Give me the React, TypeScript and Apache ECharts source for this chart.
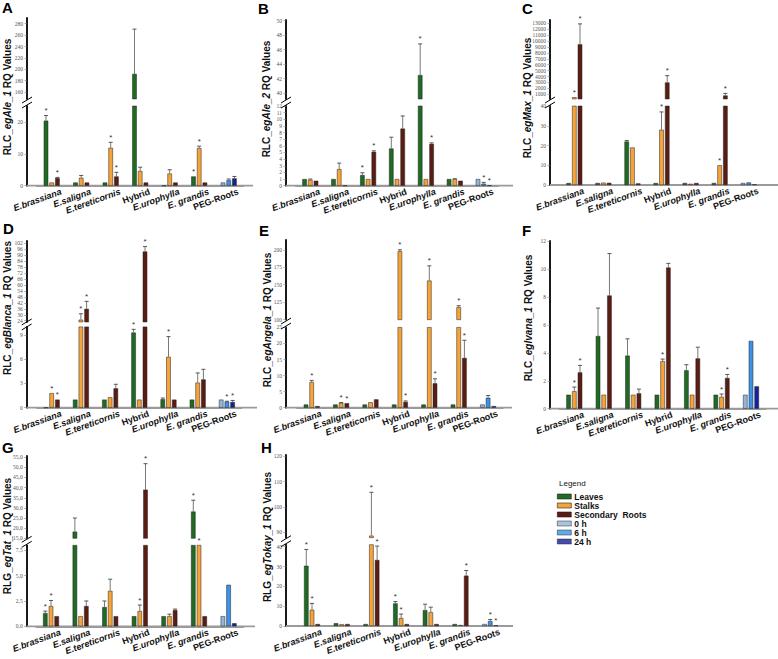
import React, { useEffect, useRef } from 'react';
import * as echarts from 'echarts';

type N = number | null;

const categories = ['E.brassiana', 'E.saligna', 'E.tereticornis', 'Hybrid', 'E.urophylla', 'E. grandis', 'PEG-Roots'];
const seriesNames = ['Leaves', 'Stalks', 'Secondary  Roots'];
const pegNames = ['0 h', '6 h', '24 h'];

// ---- Panel A (egAle_1)
const aLeaves: N[] = [20.4, 1.0, 1.0, 192, 0, 2.9, 1.0];
const aLeavesErr: N[] = [22.0, null, null, 270.5, null, null, null];
const aLeavesStar = [1, 0, 0, 0, 0, 1, 0];
const aStalks: N[] = [1.0, 2.5, 11.9, 4.6, 3.8, 11.8, 1.7];
const aStalksErr: N[] = [null, 3.2, 13.6, 5.8, 5.0, 12.4, 2.1];
const aStalksStar = [0, 0, 1, 0, 0, 1, 0];
const aRoots: N[] = [2.4, 1.0, 2.9, 1.0, 1.0, 1.0, 2.3];
const aRootsErr: N[] = [2.6, null, 4.2, null, null, null, 2.9];
const aRootsStar = [1, 0, 1, 0, 0, 0, 0];
const aLowerTicks = [0, 10, 20];
const aUpperTicks = [160, 180, 200, 220, 240, 260, 280];

// ---- Panel B (egAle_2)
const bLeaves: N[] = [1.0, 1.0, 1.6, 5.6, 42.5, 1.0, 1.0];
const bLeavesErr: N[] = [null, null, 1.95, 7.3, 46.8, null, null];
const bLeavesStar = [0, 0, 1, 0, 1, 0, 0];
const bStalks: N[] = [0.9, 2.5, 1.0, 1.0, 1.0, 1.0, 0.3];
const bStalksErr: N[] = [1.0, 3.4, null, null, null, 1.05, 0.5];
const bStalksStar = [0, 0, 0, 0, 0, 0, 1];
const bRoots: N[] = [0.75, 0, 5.1, 8.6, 6.3, 0.75, 0.05];
const bRootsErr: N[] = [null, null, 5.25, 10.5, 6.45, null, null];
const bRootsStar = [0, 0, 1, 0, 1, 0, 1];
const bLowerTicks = [0, 1, 2, 3, 4, 5, 6, 7, 8, 9, 10, 11, 12];
const bUpperTicks = [40, 42, 44, 46, 48, 50];

// ---- Panel C (egMax_1)
const cLeaves: N[] = [1.0, 1.0, 22.0, 1.0, 1.0, 1.0, 1.0];
const cLeavesErr: N[] = [null, null, 22.5, null, null, null, null];
const cLeavesStar = [0, 0, 0, 0, 0, 0, 0];
const cStalks: N[] = [500, 1.2, 19.0, 28.0, 0.6, 10.0, 1.3];
const cStalksErr: N[] = [null, null, null, 37.0, null, null, null];
const cStalksStar = [1, 0, 0, 1, 0, 1, 0];
const cRoots: N[] = [9450, 1.1, 0.8, 3000, 1.0, 800, 0.3];
const cRootsErr: N[] = [12900, null, null, 4150, null, 1150, null];
const cRootsStar = [1, 0, 0, 1, 0, 1, 0];
const cLowerTicks = [0, 10, 20, 30, 40];
const cUpperTicks = [1000, 2000, 3000, 4000, 5000, 6000, 7000, 8000, 9000, 10000, 11000, 12000, 13000];

// ---- Panel D (egBlanca_1)
const dLeaves: N[] = [0, 1.0, 1.0, 9.3, 1.05, 1.0, 1.0];
const dLeavesErr: N[] = [null, null, null, 9.7, 1.2, null, null];
const dLeavesStar = [0, 0, 0, 1, 0, 0, 0];
const dStalks: N[] = [1.8, 25.0, 1.3, 1.0, 6.3, 3.1, 0.75];
const dStalksErr: N[] = [null, 31.0, null, null, 8.8, 4.3, 0.8];
const dStalksStar = [1, 1, 0, 0, 1, 0, 1];
const dRoots: N[] = [1.0, 36.0, 2.4, 93.7, 1.0, 3.5, 0.7];
const dRootsErr: N[] = [null, 43.5, 2.9, 98.7, null, 4.75, 0.9];
const dRootsStar = [1, 1, 0, 1, 0, 0, 1];
const dLowerTicks = [0, 3, 6, 9];
const dUpperTicks = [24, 30, 36, 42, 48, 54, 60, 66, 72, 78, 84, 90, 96, 102];

// ---- Panel E (egAngela_1)
const eLeaves: N[] = [1.0, 1.0, 1.0, 1.0, 1.0, 1.0, 1.0];
const eLeavesErr: N[] = [null, null, null, null, null, null, null];
const eLeavesStar = [0, 0, 0, 0, 0, 0, 0];
const eStalks: N[] = [8.0, 1.5, 1.7, 198, 156, 118, 3.1];
const eStalksErr: N[] = [8.5, 1.6, null, 200, 177, 120, 3.8];
const eStalksStar = [1, 1, 0, 1, 1, 1, 0];
const eRoots: N[] = [0.5, 1.4, 2.6, 1.8, 7.6, 15.5, 0.5];
const eRootsErr: N[] = [null, null, null, 2.1, 9.0, 21.0, null];
const eRootsStar = [0, 1, 0, 1, 1, 1, 0];
const eLowerTicks = [0, 5, 10, 15, 20, 25];
const eUpperTicks = [100, 125, 150, 175, 200];

// ---- Panel F (egIvana_1)
const fLeaves: N[] = [1.0, 5.2, 3.8, 1.0, 2.75, 1.0, 1.0];
const fLeavesErr: N[] = [null, 7.2, 5.0, null, 3.15, null, null];
const fLeavesStar = [0, 0, 0, 0, 0, 0, 0];
const fStalks: N[] = [1.25, 1.0, 1.0, 3.4, 1.0, 0.85, 4.85];
const fStalksErr: N[] = [1.55, null, null, 3.55, null, 1.05, null];
const fStalksStar = [1, 0, 0, 1, 0, 1, 0];
const fRoots: N[] = [2.6, 8.1, 1.1, 10.1, 3.6, 2.2, 1.6];
const fRootsErr: N[] = [3.1, 11.1, 1.4, 10.4, 4.4, 2.45, null];
const fRootsStar = [1, 0, 0, 0, 0, 1, 0];
const fTicks = [0, 2, 4, 6, 8, 10, 12];

// ---- Panel G (egTat_1)
const gLeaves: N[] = [1.3, 18.3, 1.9, 1.0, 1.0, 28.2, 1.0];
const gLeavesErr: N[] = [1.5, 25.0, 2.5, null, null, 33.8, null];
const gLeavesStar = [1, 0, 0, 0, 0, 1, 0];
const gStalks: N[] = [2.0, 1.0, 3.5, 1.5, 1.0, 12.0, 4.1];
const gStalksErr: N[] = [2.55, null, 4.65, 2.1, 1.2, null, null];
const gStalksStar = [1, 0, 0, 1, 0, 1, 0];
const gRoots: N[] = [1.0, 2.0, 1.0, 39.0, 1.6, 1.0, 0.3];
const gRootsErr: N[] = [null, 2.5, null, 51.8, 1.7, null, null];
const gRootsStar = [0, 0, 0, 1, 0, 0, 0];
const gLowerTicks = [0, 2.5, 5, 7.5];
const gUpperTicks = [15, 20, 25, 30, 35, 40, 45, 50, 55];

// ---- Panel H (egTokay_1)
const hLeaves: N[] = [30.4, 1.4, 1.0, 11.4, 8.0, 1.0, 1.0];
const hLeavesErr: N[] = [38.6, null, null, 12.3, 11.0, null, null];
const hLeavesStar = [1, 0, 0, 1, 0, 0, 0];
const hStalks: N[] = [8.2, 0.9, 88.7, 4.0, 7.0, 0.5, 2.5];
const hStalksErr: N[] = [11.4, null, 105.8, 6.0, 9.5, null, 3.3];
const hStalksStar = [1, 0, 1, 1, 0, 0, 1];
const hRoots: N[] = [1.0, 1.0, 33.3, 1.0, 1.0, 25.4, 0.3];
const hRootsErr: N[] = [null, null, 40.3, null, null, 28.0, null];
const hRootsStar = [0, 0, 1, 0, 0, 1, 1];
const hLowerTicks = [0, 10, 20, 30, 40];
const hUpperTicks = [90, 100, 110, 120];

const FONT = 'Liberation Sans, Arial, Helvetica, sans-serif';
const COLORS = ['#1f6b23', '#f6a33a', '#5b1c12'];
const PEG_COLORS = ['#93b5dc', '#3b93e6', '#15209a'];
const BAR_W = 4.5;
const BAR_GAP = 0.27;
const PITCH = BAR_W * (1 + BAR_GAP);

type Layout = {
  letter: [number, number]; title: [number, number];
  axisX: number; c0: number; s: number; xEnd: number;
  zero: number; lTop: number; lMax: number;
  uTop?: number; uBottom?: number; uMin?: number; uMax?: number;
};

const panels = [
  { key: 'A', prefix: 'RLC', gene: 'egAle_1', vals: [aLeaves, aStalks, aRoots], errs: [aLeavesErr, aStalksErr, aRootsErr], stars: [aLeavesStar, aStalksStar, aRootsStar], lowerTicks: aLowerTicks, upperTicks: aUpperTicks,
    L: { letter: [2, 0], title: [7, 97], axisX: 27, c0: 51.7, s: 29.5, xEnd: 253, zero: 185.7, lTop: 106, lMax: 25, uTop: 18, uBottom: 99, uMin: 148, uMax: 290 } as Layout },
  { key: 'B', prefix: 'RLC', gene: 'egAle_2', vals: [bLeaves, bStalks, bRoots], errs: [bLeavesErr, bStalksErr, bRootsErr], stars: [bLeavesStar, bStalksStar, bRootsStar], lowerTicks: bLowerTicks, upperTicks: bUpperTicks,
    L: { letter: [258, 1], title: [266, 99], axisX: 286, c0: 310.3, s: 28.9, xEnd: 513, zero: 185.7, lTop: 106, lMax: 12, uTop: 20, uBottom: 99, uMin: 39.2, uMax: 50.1 } as Layout },
  { key: 'C', prefix: 'RLC', gene: 'egMax_1', vals: [cLeaves, cStalks, cRoots], errs: [cLeavesErr, cStalksErr, cRootsErr], stars: [cLeavesStar, cStalksStar, cRootsStar], lowerTicks: cLowerTicks, upperTicks: cUpperTicks,
    L: { letter: [522, 1], title: [527, 98], axisX: 550, c0: 574.3, s: 29.07, xEnd: 778, zero: 185, lTop: 106, lMax: 40, uTop: 20, uBottom: 99, uMin: 206, uMax: 13560 } as Layout },
  { key: 'D', prefix: 'RLC', gene: 'egBlanca_1', vals: [dLeaves, dStalks, dRoots], errs: [dLeavesErr, dStalksErr, dRootsErr], stars: [dLeavesStar, dStalksStar, dRootsStar], lowerTicks: dLowerTicks, upperTicks: dUpperTicks,
    L: { letter: [3, 221], title: [7, 308], axisX: 26.7, c0: 51.7, s: 29.2, xEnd: 257, zero: 407.7, lTop: 326.9, lMax: 10, uTop: 241, uBottom: 322, uMin: 22.7, uMax: 104.3 } as Layout },
  { key: 'E', prefix: 'RLC', gene: 'egAngela_1', vals: [eLeaves, eStalks, eRoots], errs: [eLeavesErr, eStalksErr, eRootsErr], stars: [eLeavesStar, eStalksStar, eRootsStar], lowerTicks: eLowerTicks, upperTicks: eUpperTicks,
    L: { letter: [259, 223], title: [267, 320], axisX: 286, c0: 311.7, s: 29.4, xEnd: 512, zero: 407.7, lTop: 327.4, lMax: 25, uTop: 240, uBottom: 319.7, uMin: 100, uMax: 214 } as Layout },
  { key: 'F', prefix: 'RLC', gene: 'egIvana_1', vals: [fLeaves, fStalks, fRoots], errs: [fLeavesErr, fStalksErr, fRootsErr], stars: [fLeavesStar, fStalksStar, fRootsStar], lowerTicks: fTicks, upperTicks: null,
    L: { letter: [522, 223], title: [528, 318], axisX: 550, c0: 574.3, s: 29.45, xEnd: 778, zero: 408.7, lTop: 241, lMax: 12 } as Layout },
  { key: 'G', prefix: 'RLG', gene: 'egTat_1', vals: [gLeaves, gStalks, gRoots], errs: [gLeavesErr, gStalksErr, gRootsErr], stars: [gLeavesStar, gStalksStar, gRootsStar], lowerTicks: gLowerTicks, upperTicks: gUpperTicks, comma: true,
    L: { letter: [2, 440], title: [7, 536], axisX: 26.7, c0: 51, s: 29.6, xEnd: 255, zero: 626.3, lTop: 545.3, lMax: 8, uTop: 456, uBottom: 538.3, uMin: 15, uMax: 55.6 } as Layout },
  { key: 'H', prefix: 'RLG', gene: 'egTokay_1', vals: [hLeaves, hStalks, hRoots], errs: [hLeavesErr, hStalksErr, hRootsErr], stars: [hLeavesStar, hStalksStar, hRootsStar], lowerTicks: hLowerTicks, upperTicks: hUpperTicks,
    L: { letter: [261, 440], title: [267, 537], axisX: 286, c0: 312, s: 29.7, xEnd: 513, zero: 626, lTop: 544.7, lMax: 41, uTop: 455, uBottom: 537.7, uMin: 87.9, uMax: 120.5 } as Layout },
];

function buildOption() {
  const grid: any[] = [];
  const xAxis: any[] = [];
  const yAxis: any[] = [];
  const series: any[] = [];
  const graphic: any[] = [];

  panels.forEach((p: any) => {
    const L: Layout = p.L;
    const left = L.c0 - L.s / 2;
    const width = L.s * 7;
    const hasUpper = L.uMin !== undefined;
    const fmt = (v: number) => (p.comma ? v.toFixed(1).replace('.', ',') : String(v));

    const addGrid = (top: number, bottom: number, lower: boolean, min: number, max: number, ticks: number[]) => {
      const gi = grid.length;
      grid.push({ left, top, width, height: bottom - top, containLabel: false, outerBoundsMode: 'none' });
      xAxis.push({
        gridIndex: gi, type: 'category', data: categories, show: lower,
        axisLine: { show: true, lineStyle: { color: '#9a9a9a', width: 1.8 } },
        axisTick: { show: false },
        axisLabel: {
          interval: 0, rotate: 20, margin: 9,
          padding: [0, -10, 0, 0],
          formatter: (v: string) => (v.startsWith('E') ? `{i|${v}}` : `{n|${v}}`),
          rich: {
            i: { fontFamily: FONT, fontSize: 9, fontWeight: 'bold', fontStyle: 'italic', color: '#111' },
            n: { fontFamily: FONT, fontSize: 9, fontWeight: 'bold', color: '#111' },
          },
        },
      });
      yAxis.push({
        gridIndex: gi, type: 'value', min, max, offset: left - L.axisX,
        axisLine: { show: true, lineStyle: { color: '#000', width: 1.8 } },
        axisTick: { show: true, length: 2.5, customValues: ticks, lineStyle: { color: '#777', width: 0.6 } },
        axisLabel: { customValues: ticks, fontSize: 5.5, color: '#555', margin: 4, fontFamily: 'Liberation Serif, serif', formatter: fmt },
        splitLine: { show: false },
      });
      return gi;
    };

    const lowerIdx = addGrid(L.lTop, L.zero, true, 0, L.lMax, p.lowerTicks);
    const upperIdx = hasUpper ? addGrid(L.uTop!, L.uBottom!, false, L.uMin!, L.uMax!, p.upperTicks) : -1;

    const lowerItems: number[][] = [];
    const upperItems: number[][] = [];

    for (let k = 0; k < 3; k++) {
      const vals: N[] = p.vals[k];
      const errs: N[] = p.errs[k];
      const stars: number[] = p.stars[k];
      const mk = (upper: boolean) => ({
        type: 'bar',
        name: seriesNames[k],
        xAxisIndex: upper ? upperIdx : lowerIdx,
        yAxisIndex: upper ? upperIdx : lowerIdx,
        barWidth: BAR_W,
        barGap: `${BAR_GAP * 100}%`,
        clip: true,
        itemStyle: { color: COLORS[k], borderColor: '#222', borderWidth: 0.5 },
        data: vals.map((v, i) => {
          const value = v === null ? '-' : upper ? (v >= L.uMin! ? v : '-') : v;
          return i === 6 ? { value, itemStyle: { color: PEG_COLORS[k] } } : { value };
        }),
      });
      series.push(mk(false));
      if (hasUpper) series.push(mk(true));

      vals.forEach((v, i) => {
        if (v === null) return;
        const e = errs[i];
        const st = stars[i];
        const top = e !== null ? e : v;
        if (hasUpper && v >= L.uMin!) {
          upperItems.push([i, k, v, e !== null ? e : -1, st ? top : -1]);
        } else {
          const base = Math.min(v, L.lMax);
          const et = e !== null ? Math.min(e, L.lMax) : -1;
          const sa = st ? Math.min(top, L.lMax) : -1;
          if (et >= 0 || sa >= 0) lowerItems.push([i, k, base, et, sa]);
        }
      });
    }

    const renderItem = (_params: any, api: any) => {
      const cat = api.value(0);
      const k = api.value(1);
      const v = api.value(2);
      const e = api.value(3);
      const s = api.value(4);
      const pBase = api.coord([cat, v]);
      const x = pBase[0] + (k - 1) * PITCH;
      const children: any[] = [];
      if (e >= 0) {
        const pTop = api.coord([cat, e]);
        children.push({ type: 'line', shape: { x1: x, y1: pBase[1], x2: x, y2: pTop[1] }, style: { stroke: '#555', lineWidth: 0.8 } });
        children.push({ type: 'line', shape: { x1: x - 2, y1: pTop[1], x2: x + 2, y2: pTop[1] }, style: { stroke: '#555', lineWidth: 1 } });
      }
      if (s >= 0) {
        const pS = api.coord([cat, s]);
        children.push({ type: 'text', x, y: pS[1] - 5, style: { text: '*', fill: '#333', fontSize: 8, fontFamily: FONT, align: 'center', verticalAlign: 'middle' } });
      }
      return { type: 'group', children };
    };

    if (lowerItems.length) series.push({ type: 'custom', xAxisIndex: lowerIdx, yAxisIndex: lowerIdx, data: lowerItems, renderItem, z: 5, silent: true });
    if (upperItems.length) series.push({ type: 'custom', xAxisIndex: upperIdx, yAxisIndex: upperIdx, data: upperItems, renderItem, z: 5, silent: true });

    // x-axis baseline extension
    graphic.push({ type: 'line', shape: { x1: L.axisX, y1: L.zero, x2: L.xEnd, y2: L.zero }, style: { stroke: '#9a9a9a', lineWidth: 1.8 }, z: 1 });

    // break marks
    if (hasUpper) {
      const yc = (L.uBottom! + L.lTop) / 2;
      [-2.5, 2.5].forEach((d) => {
        graphic.push({ type: 'line', shape: { x1: L.axisX - 5, y1: yc + d + 3, x2: L.axisX + 5, y2: yc + d - 3 }, style: { stroke: '#000', lineWidth: 1 }, z: 10 });
      });
    }

    // panel letter
    graphic.push({ type: 'text', x: L.letter[0], y: L.letter[1], style: { text: p.key, fontSize: 15, fontWeight: 'bold', fontFamily: FONT, fill: '#000', align: 'left', verticalAlign: 'top' } });

    // y-axis title
    graphic.push({
      type: 'text', x: L.title[0], y: L.title[1], rotation: Math.PI / 2,
      style: {
        text: `{a|${p.prefix}_}{b|${p.gene}}{a| RQ Values}`,
        rich: {
          a: { fontSize: 10, fontWeight: 'bold', fontFamily: FONT, fill: '#111' },
          b: { fontSize: 10, fontWeight: 'bold', fontStyle: 'italic', fontFamily: FONT, fill: '#111' },
        },
        align: 'center', verticalAlign: 'middle',
      },
    });
  });

  // legend-only series for PEG time points (no data)
  pegNames.forEach((n, k) => {
    series.push({ type: 'scatter', name: n, xAxisIndex: 0, yAxisIndex: 0, data: [], itemStyle: { color: PEG_COLORS[k] } });
  });

  graphic.push({ type: 'text', x: 559, y: 483, style: { text: 'Legend', fontSize: 8, fontFamily: FONT, fill: '#111', align: 'left', verticalAlign: 'middle' } });

  return {
    animation: false,
    backgroundColor: '#fff',
    grid, xAxis, yAxis, series, graphic,
    legend: {
      orient: 'vertical', left: 557, top: 492, padding: 0,
      itemWidth: 14, itemHeight: 5, itemGap: 0, icon: 'rect', selectedMode: false,
      data: [...seriesNames, ...pegNames],
      itemStyle: { borderColor: '#222', borderWidth: 0.6 },
      textStyle: { fontSize: 8.5, fontWeight: 'bold', color: '#111', fontFamily: FONT, lineHeight: 8, padding: [0, 0, 0, -2] },
    },
  };
}

export default function App() {
  const ref = useRef<HTMLDivElement>(null);
  useEffect(() => {
    document.body.style.margin = '0';
    if (!ref.current) return;
    const chart = echarts.init(ref.current, null, { renderer: 'svg' });
    chart.setOption(buildOption() as any);
    return () => chart.dispose();
  }, []);
  return <div ref={ref} style={{ width: 778, height: 659 }} />;
}
